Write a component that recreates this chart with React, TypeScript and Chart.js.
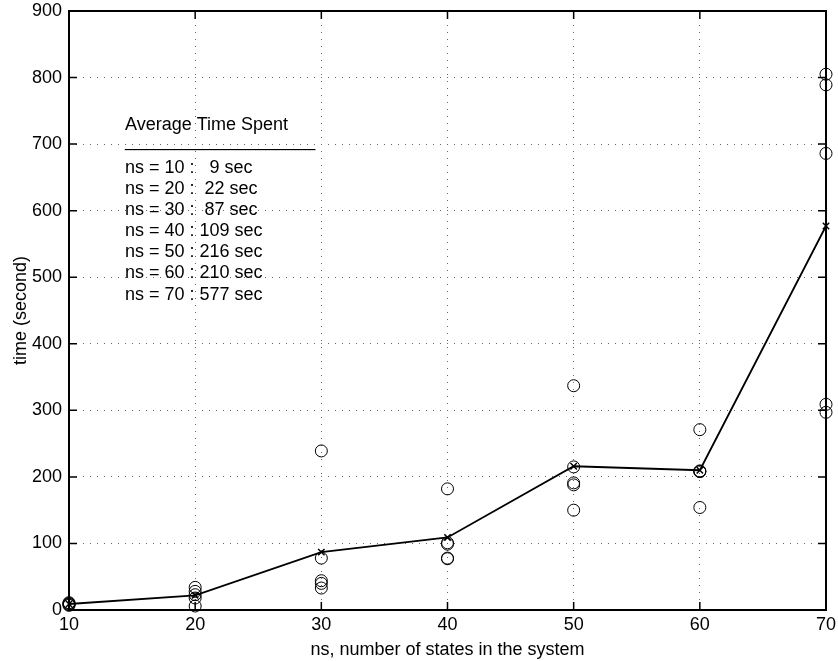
import React, { useEffect, useRef } from "react";
import { Chart, registerables } from "chart.js";

Chart.register(...registerables);

// ---- data ----
const nsValues = [10, 20, 30, 40, 50, 60, 70];
const avgTimes = [9, 22, 87, 109, 216, 210, 577];
const runTimes10 = [11, 10, 9, 8, 7];
const runTimes20 = [34, 28, 23, 18, 6];
const runTimes30 = [239, 78, 44, 40, 33];
const runTimes40 = [182, 101, 99, 78, 77];
const runTimes50 = [337, 215, 191, 188, 150];
const runTimes60 = [271, 209, 208, 208, 154];
const runTimes70 = [805, 789, 686, 309, 297];
const xTicks = [10, 20, 30, 40, 50, 60, 70];
const yTicks = [0, 100, 200, 300, 400, 500, 600, 700, 800, 900];
const legendTitle = "Average Time Spent";
const legendRule = "___________________";
const xTitle = "ns, number of states in the system";
const yTitle = "time (second)";

const FONT = "'Liberation Sans', Arial, Helvetica, sans-serif";
const FS = 18;

const allRuns = [runTimes10, runTimes20, runTimes30, runTimes40, runTimes50, runTimes60, runTimes70];

const overlay = {
  id: "overlay",
  afterDraw(chart: any) {
    const { ctx, chartArea: a } = chart;
    const xs = chart.scales.x;
    const ys = chart.scales.y;
    ctx.save();
    ctx.strokeStyle = "#000";
    ctx.lineWidth = 2;
    ctx.strokeRect(a.left, a.top, a.right - a.left, a.bottom - a.top);
    const tl = 8;
    ctx.lineWidth = 1.5;
    ctx.beginPath();
    for (const t of xTicks) {
      const px = xs.getPixelForValue(t);
      ctx.moveTo(px, a.bottom);
      ctx.lineTo(px, a.bottom - tl);
      ctx.moveTo(px, a.top);
      ctx.lineTo(px, a.top + tl);
    }
    for (const t of yTicks) {
      const py = ys.getPixelForValue(t);
      ctx.moveTo(a.left, py);
      ctx.lineTo(a.left + tl, py);
      ctx.moveTo(a.right, py);
      ctx.lineTo(a.right - tl, py);
    }
    ctx.stroke();

    // text legend
    ctx.fillStyle = "#000";
    ctx.font = `${FS}px ${FONT}`;
    ctx.textAlign = "left";
    const lx = a.left + 56;
    ctx.textBaseline = "middle";
    ctx.fillText(legendTitle, lx, a.top + 114);
    ctx.textBaseline = "alphabetic";
    ctx.fillText(legendRule, lx, a.top + 135);
    ctx.textBaseline = "middle";
    nsValues.forEach((ns, i) => {
      const txt = `ns = ${ns} : ${String(avgTimes[i]).padStart(3, " ")} sec`;
      ctx.fillText(txt, lx, a.top + 157 + i * 21.1);
    });
    ctx.restore();
  },
};

export default function App() {
  const ref = useRef<HTMLCanvasElement>(null);
  useEffect(() => {
    if (!ref.current) return;
    const scatterData: { x: number; y: number }[] = [];
    nsValues.forEach((ns, i) => {
      allRuns[i].forEach((v) => scatterData.push({ x: ns, y: v }));
    });
    const meanData = nsValues.map((ns, i) => ({ x: ns, y: avgTimes[i] }));
    const chart = new Chart(ref.current, {
      type: "scatter",
      data: {
        datasets: [
          {
            label: "runs",
            data: scatterData,
            pointStyle: "circle",
            pointRadius: 6,
            pointBackgroundColor: "rgba(0,0,0,0)",
            pointBorderColor: "#000",
            pointBorderWidth: 1,
            showLine: false,
            clip: false,
          } as any,
          {
            label: "average",
            data: meanData,
            showLine: true,
            borderColor: "#000",
            borderWidth: 1.8,
            tension: 0,
            pointStyle: "crossRot",
            pointRadius: 4.5,
            pointBorderColor: "#000",
            pointBorderWidth: 1.5,
            clip: false,
          } as any,
        ],
      },
      options: {
        responsive: false,
        animation: false,
        layout: { padding: { top: 11, right: 12, left: 0, bottom: 0 } },
        plugins: { legend: { display: false }, tooltip: { enabled: false } },
        scales: {
          x: {
            type: "linear",
            min: 10,
            max: 70,
            afterFit: (s: any) => {
              s.height = 51;
              s.paddingLeft = 0;
              s.paddingRight = 0;
            },
            afterBuildTicks: (s: any) => {
              s.ticks = xTicks.map((v) => ({ value: v }));
            },
            ticks: { color: "#000", font: { family: FONT, size: FS }, padding: 4, maxRotation: 0 },
            grid: { color: "#666", lineWidth: 1, drawTicks: false },
            border: { display: false, dash: [1, 6] },
            title: {
              display: true,
              text: xTitle,
              color: "#000",
              font: { family: FONT, size: FS },
              padding: { top: 1, bottom: 0 },
            },
          },
          y: {
            type: "linear",
            min: 0,
            max: 900,
            afterFit: (s: any) => {
              s.width = 69;
              s.paddingTop = 0;
              s.paddingBottom = 0;
            },
            afterBuildTicks: (s: any) => {
              s.ticks = yTicks.map((v) => ({ value: v }));
            },
            ticks: { color: "#000", font: { family: FONT, size: FS }, padding: 7 },
            grid: { color: "#666", lineWidth: 1, drawTicks: false },
            border: { display: false, dash: [1, 6] },
            title: {
              display: true,
              text: yTitle,
              color: "#000",
              font: { family: FONT, size: FS },
              padding: { top: 10, bottom: 0 },
            },
          },
        },
      } as any,
      plugins: [overlay],
    });
    return () => chart.destroy();
  }, []);
  return (
    <div style={{ position: "fixed", left: 0, top: 0, width: 838, height: 661, background: "#fff" }}>
      <canvas ref={ref} width={838} height={661} style={{ display: "block" }} />
    </div>
  );
}
